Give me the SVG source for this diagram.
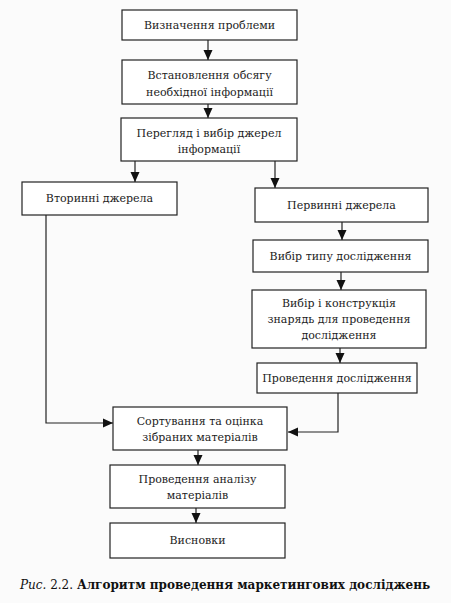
<svg xmlns="http://www.w3.org/2000/svg" width="451" height="603" viewBox="0 0 451 603">
<style>
.box{fill:#fff;stroke:#222;stroke-width:1.2}
.t{font-family:"DejaVu Serif","Liberation Serif",serif;font-size:11px;fill:#222;text-anchor:middle}
.c{fill:none;stroke:#222;stroke-width:1.2;marker-end:url(#ah)}
.cap{font-family:"DejaVu Serif","Liberation Serif",serif;font-size:12px;fill:#111}
</style>
<defs>
<marker id="ah" viewBox="0 0 10 10" refX="10" refY="5" markerWidth="10" markerHeight="10" markerUnits="userSpaceOnUse" orient="auto">
<path d="M0,0.5 L10,5 L0,9.5 Z" fill="#111"/>
</marker>
</defs>
<rect width="451" height="603" fill="#fbfbfb"/>
<g id="connectors">
<path class="c" d="M208,40 V60"/>
<path class="c" d="M208,104 V118"/>
<path class="c" d="M135,161 V182"/>
<path class="c" d="M275,161 V188"/>
<path class="c" d="M342,222 V240"/>
<path class="c" d="M341,272 V290"/>
<path class="c" d="M340,348 V363"/>
<path class="c" d="M338,393 V432 H288"/>
<path class="c" d="M46,215 V423 H113"/>
<path class="c" d="M198,450 V465"/>
<path class="c" d="M196,508 V523"/>
</g>
<g id="n1"><rect class="box" x="122" y="10" width="175" height="30"/><text class="t" x="209.5" y="29">Визначення проблеми</text></g>
<g id="n2"><rect class="box" x="122" y="60" width="175" height="44"/><text class="t" x="209.5" y="79">Встановлення обсягу</text><text class="t" x="209.5" y="96">необхідної інформації</text></g>
<g id="n3"><rect class="box" x="121" y="118" width="176" height="43"/><text class="t" x="209" y="137">Перегляд і вибір джерел</text><text class="t" x="209" y="153">інформації</text></g>
<g id="n4"><rect class="box" x="22" y="182" width="155" height="33"/><text class="t" x="99.5" y="202">Вторинні джерела</text></g>
<g id="n5"><rect class="box" x="255" y="188" width="173" height="34"/><text class="t" x="341.5" y="209">Первинні джерела</text></g>
<g id="n6"><rect class="box" x="253" y="240" width="175" height="32"/><text class="t" x="340.5" y="260">Вибір типу дослідження</text></g>
<g id="n7"><rect class="box" x="252" y="290" width="174" height="58"/><text class="t" x="339" y="307">Вибір і конструкція</text><text class="t" x="339" y="323">знарядь для проведення</text><text class="t" x="339" y="339">дослідження</text></g>
<g id="n8"><rect class="box" x="257" y="363" width="160" height="30"/><text class="t" x="337" y="382">Проведення дослідження</text></g>
<g id="n9"><rect class="box" x="113" y="407" width="174" height="43"/><text class="t" x="200" y="425">Сортування та оцінка</text><text class="t" x="200" y="441">зібраних матеріалів</text></g>
<g id="n10"><rect class="box" x="110" y="465" width="175" height="43"/><text class="t" x="197.5" y="483">Проведення аналізу</text><text class="t" x="197.5" y="499">матеріалів</text></g>
<g id="n11"><rect class="box" x="110" y="523" width="175" height="35"/><text class="t" x="197.5" y="544">Висновки</text></g>
<text class="cap" x="20" y="589"><tspan font-style="italic">Рис.</tspan> 2.2. <tspan font-weight="bold">Алгоритм проведення маркетингових досліджень</tspan></text>
</svg>
